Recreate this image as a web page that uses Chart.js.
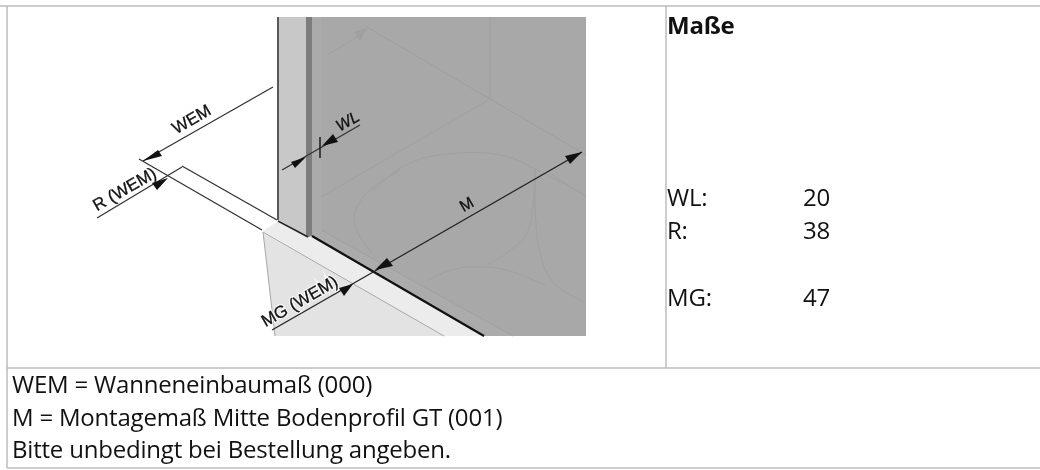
<!DOCTYPE html>
<html>
<head>
<meta charset="utf-8">
<style>
html, body { margin: 0; padding: 0; background: #fff; }
canvas { display: block; filter: blur(0.4px); }
</style>
<script src="https://cdn.jsdelivr.net/npm/chart.js@4"></script>
</head>
<body>
<canvas id="myChart" width="1040" height="470"></canvas>
<script>
// drawing, x/y are image units on the two linear scales
const frameH1 = [[0, 6], [1040, 6]];
const frameH2 = [[7, 368], [1040, 368]];
const frameH3 = [[7, 468], [1040, 468]];
const frameV1 = [[7, 6], [7, 468]];
const frameV2 = [[666, 6], [666, 368]];

const wallPanel = [[312, 17], [586, 17], [586, 336], [484, 336], [312, 236]];
const wallStrip = [[312, 17], [321, 17], [321, 230], [513, 336], [484, 336], [312, 236]];
const stripEdge = [[321, 230], [513, 336]];
const column = [[279, 17], [306, 17], [306, 236], [279, 220]];
const columnEdge = [[306, 17], [312, 17], [312, 236], [308, 237], [306, 236]];
const floorBand = [[263, 231], [278, 221], [308, 237], [312, 236], [484, 336], [444, 336]];
const floorArea = [[263, 232], [444, 336], [275, 336]];

const faint1 = [[365, 26], [490, 99], [586, 155]];
const faint2 = [[490, 17], [490, 99]];
const faint3 = [[490, 99], [321, 197]];
const faint4 = [[327, 55], [362, 34]];
const faintHead = [[367, 28], [354, 32], [360, 41]];
const faint5 = [[535, 168], [535, 213]];
const faint6 = [[550, 173], [586, 197]];
const curve1 = [[373, 190], [410, 163], [460, 153], [505, 156], [533, 168], [586, 195]];
const curve2 = [[400, 170], [370, 190], [355, 213], [358, 233], [372, 253]];
const curve3 = [[535, 170], [533, 203], [527, 233], [507, 253], [487, 265]];
const curve4 = [[428, 280], [455, 269], [483, 267], [510, 271], [545, 285]];
const curve5 = [[535, 213], [540, 253], [553, 282], [583, 302]];
const floorEdge = [[263, 232], [275, 336]];
const floorLine = [[263, 232], [444, 336]];

const columnLeft = [[278, 17], [278, 220]];
const bottomEdge = [[312, 236], [484, 336]];
const columnFoot = [[278, 221], [308, 237]];

const wemLine = [[273, 87], [143, 161]];
const wemHead = [[143, 161], [158, 150], [162, 156]];
const ext1 = [[139, 159], [262, 230]];
const ext2 = [[182, 166], [277, 220]];
const rLine = [[97, 218], [182, 167]];
const rHead = [[168, 178], [152, 183], [157, 190]];
const wlLine = [[282, 170], [360, 125]];
const wlTick = [[320, 137], [320, 158]];
const wlHead1 = [[306, 157], [291, 162], [295, 168]];
const wlHead2 = [[322, 146], [333, 134], [338, 142]];
const mLine = [[582, 152], [375, 271]];
const mHead1 = [[582, 152], [565, 156], [570, 164]];
const mHead2 = [[375, 270], [387, 258], [393, 266]];
const mgLine = [[272, 330], [375, 271]];
const mgHead = [[353, 284], [339, 288], [344, 296]];

const dimLabels = ["WEM", "R (WEM)", "MG (WEM)", "M", "WL"];
const sideTitle = "Maße";
const sideNames = ["WL:", "R:", "MG:"];
const sideValues = ["20", "38", "47"];
const notes = [
  "WEM = Wanneneinbaumaß (000)",
  "M = Montagemaß Mitte Bodenprofil GT (001)",
  "Bitte unbedingt bei Bestellung angeben."
];

function toPoints(arr) {
  return arr.map(p => ({ x: p[0], y: p[1] }));
}
function fillShape(arr, color) {
  return { data: toPoints(arr), showLine: true, fill: 'shape', backgroundColor: color, borderWidth: 0, pointRadius: 0 };
}
function stroke(arr, color, width, tension) {
  return { data: toPoints(arr), showLine: true, fill: false, borderColor: color, borderWidth: width, pointRadius: 0, tension: tension || 0 };
}

// paint order, first one ends up at the bottom
const shapes = [
  fillShape(wallPanel, '#a8a8a8'),
  fillShape(wallStrip, '#ababab'),
  fillShape(floorArea, '#e3e3e3'),
  fillShape(floorBand, '#ececec'),
  fillShape(column, '#c8c8c8'),
  fillShape(columnEdge, '#7d7d7d'),
  stroke(stripEdge, '#a0a0a0', 1),
  stroke(faint1, '#9e9e9e', 1),
  stroke(faint2, '#a2a2a2', 1),
  stroke(faint3, '#a0a0a0', 1),
  stroke(faint4, '#a0a0a0', 1),
  fillShape(faintHead, '#a0a0a0'),
  stroke(faint5, '#a2a2a2', 1),
  stroke(faint6, '#a2a2a2', 1),
  stroke(curve1, '#a0a0a0', 1, 0.4),
  stroke(curve2, '#a0a0a0', 1, 0.4),
  stroke(curve3, '#a0a0a0', 1, 0.4),
  stroke(curve4, '#a0a0a0', 1, 0.4),
  stroke(curve5, '#a0a0a0', 1, 0.4),
  stroke(floorEdge, '#a6a6a6', 1),
  stroke(floorLine, '#a6a6a6', 1),
  stroke(columnLeft, '#222', 1.5),
  stroke(columnFoot, '#222', 1.5),
  stroke(bottomEdge, '#111', 2.2),
  stroke(ext1, '#333', 1.3),
  stroke(ext2, '#333', 1.3),
  stroke(wemLine, '#333', 1.3),
  fillShape(wemHead, '#111'),
  stroke(rLine, '#333', 1.3),
  fillShape(rHead, '#111'),
  stroke(wlLine, '#333', 1.3),
  stroke(wlTick, '#111', 1.4),
  fillShape(wlHead1, '#111'),
  fillShape(wlHead2, '#111'),
  stroke(mLine, '#222', 1.4),
  fillShape(mHead1, '#111'),
  fillShape(mHead2, '#111'),
  stroke(mgLine, '#222', 1.3),
  fillShape(mgHead, '#111'),
  stroke(frameH1, '#bdbdbd', 1.5),
  stroke(frameH2, '#bdbdbd', 1.5),
  stroke(frameH3, '#bdbdbd', 1.5),
  stroke(frameV1, '#bdbdbd', 1.5),
  stroke(frameV2, '#bdbdbd', 1.5)
];
shapes.forEach((s, i) => { s.order = shapes.length - i; });

const textPlugin = {
  id: 'textPlugin',
  afterDraw(chart) {
    const c = chart.ctx;
    const sx = chart.scales.x, sy = chart.scales.y;
    const bodyFont = '"Open Sans", "Noto Sans", sans-serif';

    function rotated(txt, x, y, font, halo) {
      c.save();
      c.translate(sx.getPixelForValue(x), sy.getPixelForValue(y));
      c.rotate(-30 * Math.PI / 180);
      c.font = font;
      c.textAlign = 'center';
      c.textBaseline = 'middle';
      if (halo) {
        c.strokeStyle = 'rgba(255,255,255,0.8)';
        c.lineWidth = 2.5;
        c.strokeText(txt, 0, 0);
      }
      c.strokeStyle = '#111';
      c.lineWidth = 0.3;
      c.strokeText(txt, 0, 0);
      c.fillStyle = '#111';
      c.fillText(txt, 0, 0);
      c.restore();
    }
    const arial = '"Liberation Sans", Arial, sans-serif';
    rotated(dimLabels[0], 192, 120, '17px ' + arial);
    rotated(dimLabels[1], 125, 190, '17px ' + arial);
    rotated(dimLabels[2], 300, 302, '17px ' + arial, true);
    rotated(dimLabels[3], 467, 205, '16px ' + arial);
    rotated(dimLabels[4], 348, 122, 'italic 16px ' + arial);

    c.fillStyle = '#111';
    c.textAlign = 'left';
    c.textBaseline = 'alphabetic';
    c.letterSpacing = '-0.2px';
    c.font = 'bold 24px ' + bodyFont;
    c.fillText(sideTitle, sx.getPixelForValue(667), sy.getPixelForValue(34));
    c.font = '24px ' + bodyFont;
    const rows = [206, 239, 306];
    sideNames.forEach((n, i) => {
      c.fillText(n, sx.getPixelForValue(667), sy.getPixelForValue(rows[i]));
      c.fillText(sideValues[i], sx.getPixelForValue(803), sy.getPixelForValue(rows[i]));
    });
    const noteRows = [393, 426, 458];
    notes.forEach((n, i) => {
      c.fillText(n, sx.getPixelForValue(12), sy.getPixelForValue(noteRows[i]));
    });
    c.letterSpacing = '0px';
  }
};

const ctx = document.getElementById('myChart');
new Chart(ctx, {
  type: 'scatter',
  data: { datasets: shapes },
  options: {
    responsive: false,
    animation: false,
    layout: { padding: 0 },
    plugins: { legend: { display: false }, tooltip: { enabled: false } },
    scales: {
      x: { type: 'linear', min: 0, max: 1040, display: false },
      y: { type: 'linear', min: 0, max: 470, reverse: true, display: false }
    }
  },
  plugins: [textPlugin]
});
</script>
</body>
</html>
